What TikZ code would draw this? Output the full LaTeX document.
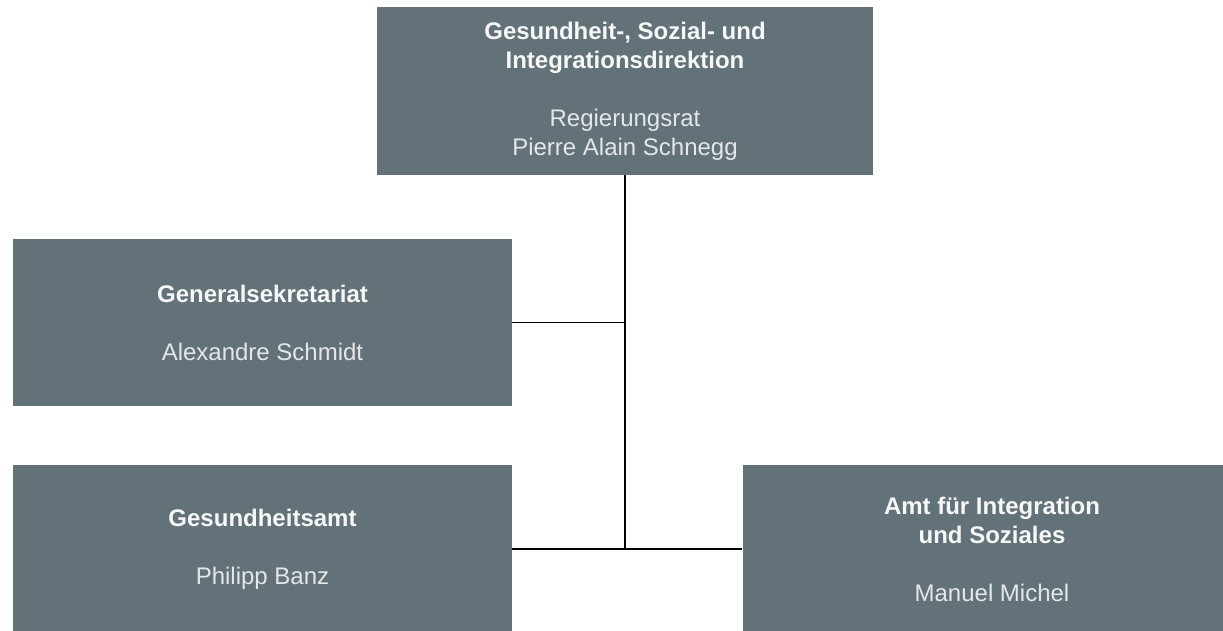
\documentclass[tikz,border=0pt]{standalone}
\usepackage{fontspec}
\setmainfont{Liberation Sans}
\definecolor{boxfill}{HTML}{637178}
\definecolor{boldtxt}{HTML}{F6F7F7}
\definecolor{regtxt}{HTML}{E4E7E8}
\tikzset{
  orgbox/.style={fill=boxfill, draw=none, minimum width=499pt, minimum height=168pt,
    inner sep=0pt, align=center, text=regtxt,
    font=\fontsize{24}{29}\selectfont},
  conn/.style={draw=black, line width=1.4pt}
}
\newcommand{\hd}[1]{\textcolor{boldtxt}{\textbf{#1}}}
\begin{document}
\begin{tikzpicture}[x=1pt,y=-1pt]
\useasboundingbox (0,0) rectangle (1223,630);
\clip (0,0) rectangle (1223,630);
\fill[white] (0,0) rectangle (1223,630);
\node[orgbox, minimum width=496pt] (gsi) at (625,91) {\hd{Gesundheit-, Sozial- und}\\\hd{Integrationsdirektion}\\[29pt]Regierungsrat\\Pierre Alain Schnegg};
\node[orgbox, minimum height=167pt] (gs) at (262.5,322.5) {\hd{Generalsekretariat}\\[29pt]Alexandre Schmidt};
\node[orgbox] (ga) at (262.5,549) {\hd{Gesundheitsamt}\\[29pt]Philipp Banz};
\node[orgbox] (ais) at (992,549) {\hd{Amt für Integration}\\\hd{und Soziales}\\[29pt]Manuel Michel};
\coordinate (j1) at (gsi.south |- gs.east);
\coordinate (j2) at (gsi.south |- ga.east);
\draw[conn] (gsi.south) -- (j2);
\draw[conn] (gs.east) -- (j1);
\draw[conn] (ga.east) -- (ais.west);
\end{tikzpicture}
\end{document}
